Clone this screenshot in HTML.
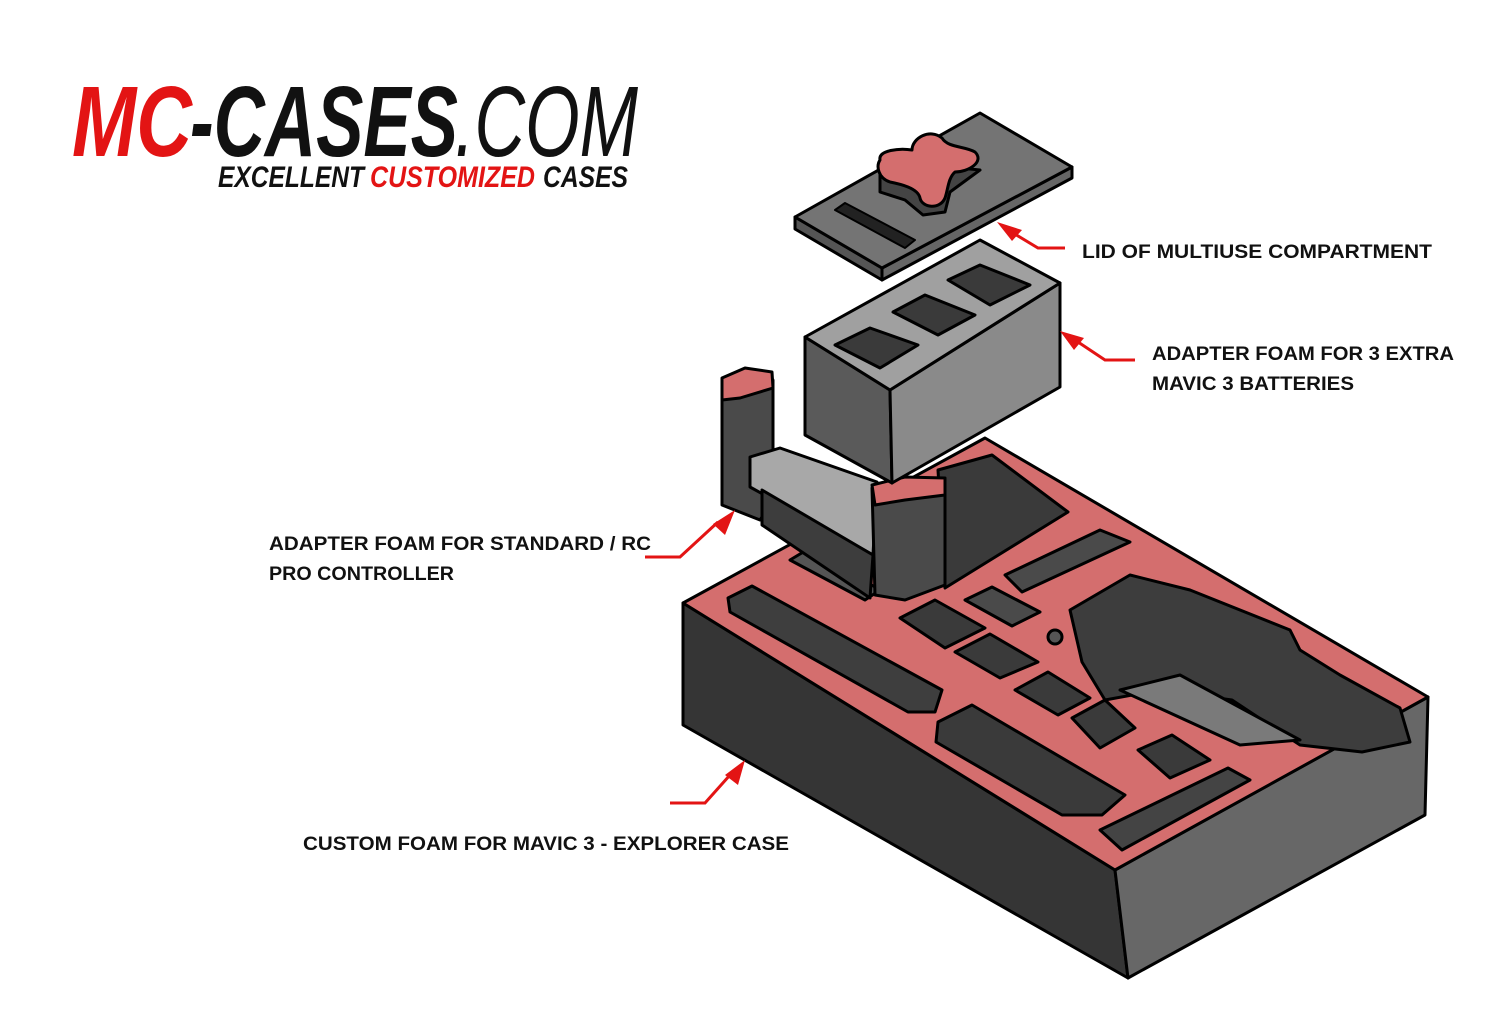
<!DOCTYPE html>
<html><head><meta charset="utf-8"><style>
html,body{margin:0;padding:0;background:#fff}
svg{display:block}
.lb{font-family:"Liberation Sans",sans-serif;font-weight:bold;font-size:19px;fill:#111}
</style></head><body>
<svg width="1500" height="1023" viewBox="0 0 1500 1023" xmlns="http://www.w3.org/2000/svg">
<rect width="1500" height="1023" fill="#fff"/>
<!-- Logo -->
<g font-family="Liberation Sans, sans-serif" font-style="italic">
<text x="72" y="156" font-size="100" font-weight="bold" fill="#e31414" textLength="120" lengthAdjust="spacingAndGlyphs">MC</text>
<text x="190" y="156" font-size="100" font-weight="bold" fill="#111" textLength="268" lengthAdjust="spacingAndGlyphs">-CASES</text>
<text x="455" y="156" font-size="100" fill="#111" textLength="183" lengthAdjust="spacingAndGlyphs">.COM</text>
<text x="218" y="187" font-size="30" font-weight="bold" fill="#111" textLength="146" lengthAdjust="spacingAndGlyphs">EXCELLENT</text>
<text x="370" y="187" font-size="30" font-weight="bold" fill="#e31414" textLength="165" lengthAdjust="spacingAndGlyphs">CUSTOMIZED</text>
<text x="543" y="187" font-size="30" font-weight="bold" fill="#111" textLength="85" lengthAdjust="spacingAndGlyphs">CASES</text>
</g>

<g stroke="#000" stroke-width="3" stroke-linejoin="round">
<!-- Main case -->
<polygon points="683,603 1115,870 1128,978 683,725" fill="#353535"/>
<polygon points="1115,870 1428,697 1425,815 1128,978" fill="#676767"/>
<polygon points="683,603 985,438 1428,697 1115,870" fill="#d46e6e"/>
<!-- pockets -->
<polygon points="728,598 752,586 942,690 935,712 908,712 730,612" fill="#3e3e3e"/>
<polygon points="790,560 810,548 880,590 865,600" fill="#555"/>
<polygon points="938,470 992,455 1068,512 945,588" fill="#3a3a3a"/>
<polygon points="1005,575 1100,530 1130,542 1022,592" fill="#4a4a4a"/>
<polygon points="900,618 935,600 985,628 945,648" fill="#3a3a3a"/>
<polygon points="965,600 992,587 1040,612 1012,626" fill="#4a4a4a"/>
<polygon points="955,652 990,634 1038,662 1000,678" fill="#3a3a3a"/>
<polygon points="1015,690 1048,672 1090,698 1058,715" fill="#3a3a3a"/>
<polygon points="1072,718 1105,700 1135,728 1100,748" fill="#3a3a3a"/>
<polygon points="1138,750 1172,735 1210,760 1170,778" fill="#3a3a3a"/>
<polygon points="1070,610 1130,575 1190,590 1290,630 1300,650 1340,675 1400,708 1410,742 1362,752 1300,745 1232,700 1160,690 1105,700 1082,662" fill="#3d3d3d"/>
<polygon points="1120,690 1180,675 1300,740 1240,745" fill="#7a7a7a"/>
<polygon points="938,722 972,705 1125,795 1102,815 1062,815 936,742" fill="#3a3a3a"/>
<polygon points="1100,830 1228,768 1250,780 1122,850" fill="#444"/>
<circle cx="1055" cy="637" r="7" fill="#555"/>

<!-- Controller adapter -->
<polygon points="722,390 773,380 773,500 760,520 722,505" fill="#4a4a4a"/>
<polygon points="722,378 745,368 772,372 773,388 740,398 722,400" fill="#d46e6e"/>
<polygon points="750,457 780,448 877,482 873,555 750,487" fill="#a8a8a8"/>
<polygon points="762,490 873,555 870,598 762,525" fill="#3d3d3d"/>
<polygon points="872,488 908,478 945,480 945,585 905,600 875,595" fill="#4a4a4a"/>
<polygon points="872,485 905,477 945,478 945,495 905,500 875,505" fill="#d46e6e"/>

<!-- Battery box -->
<polygon points="805,337 890,390 892,483 805,435" fill="#5a5a5a"/>
<polygon points="890,390 1060,283 1060,387 892,483" fill="#8a8a8a"/>
<polygon points="805,337 980,240 1060,283 890,390" fill="#a0a0a0"/>
<polygon points="835,345 870,328 918,345 880,368" fill="#3a3a3a"/>
<polygon points="893,312 925,295 975,315 938,335" fill="#3a3a3a"/>
<polygon points="948,280 980,265 1030,285 990,305" fill="#3a3a3a"/>

<!-- Lid -->
<polygon points="795,217 882,268 882,280 795,229" fill="#555"/>
<polygon points="882,268 1072,167 1072,178 882,280" fill="#666"/>
<polygon points="795,217 980,113 1072,167 882,268" fill="#747474"/>
<polygon points="835,210 845,203 915,240 905,248" fill="#222" stroke-width="2"/>
<polygon points="880,168 880,192 905,200 923,215 945,212 950,192 980,170 960,168 930,178" fill="#444"/>
<path d="M880,160 C878,150 900,148 912,150 C912,138 930,128 942,138 C948,148 965,146 975,152 C985,162 968,172 955,172 C948,178 948,190 945,198 C940,210 922,208 920,198 C918,188 900,184 890,182 C878,178 876,166 880,160Z" fill="#d46e6e"/>
</g>

<!-- Arrows -->
<g stroke="#e31414" stroke-width="3" fill="none">
<polyline points="1065,248 1038,248 1008,230"/>
<polyline points="1135,360 1105,360 1075,340"/>
<polyline points="645,557 680,557 718,522"/>
<polyline points="670,803 705,803 730,775"/>
</g>
<g fill="#e31414">
<polygon points="997,222 1022,230 1012,241"/>
<polygon points="1060,331 1084,338 1074,350"/>
<polygon points="735,510 725,535 713,524"/>
<polygon points="745,760 738,785 725,775"/>
</g>

<!-- Labels -->
<text class="lb" x="1082" y="258" textLength="350" lengthAdjust="spacingAndGlyphs">LID OF MULTIUSE COMPARTMENT</text>
<text class="lb" x="1152" y="360" textLength="302" lengthAdjust="spacingAndGlyphs">ADAPTER FOAM FOR 3 EXTRA</text>
<text class="lb" x="1152" y="390" textLength="202" lengthAdjust="spacingAndGlyphs">MAVIC 3 BATTERIES</text>
<text class="lb" x="269" y="550" textLength="382" lengthAdjust="spacingAndGlyphs">ADAPTER FOAM FOR STANDARD / RC</text>
<text class="lb" x="269" y="580" textLength="185" lengthAdjust="spacingAndGlyphs">PRO CONTROLLER</text>
<text class="lb" x="303" y="850" textLength="486" lengthAdjust="spacingAndGlyphs">CUSTOM FOAM FOR MAVIC 3 - EXPLORER CASE</text>
</svg>
</body></html>
